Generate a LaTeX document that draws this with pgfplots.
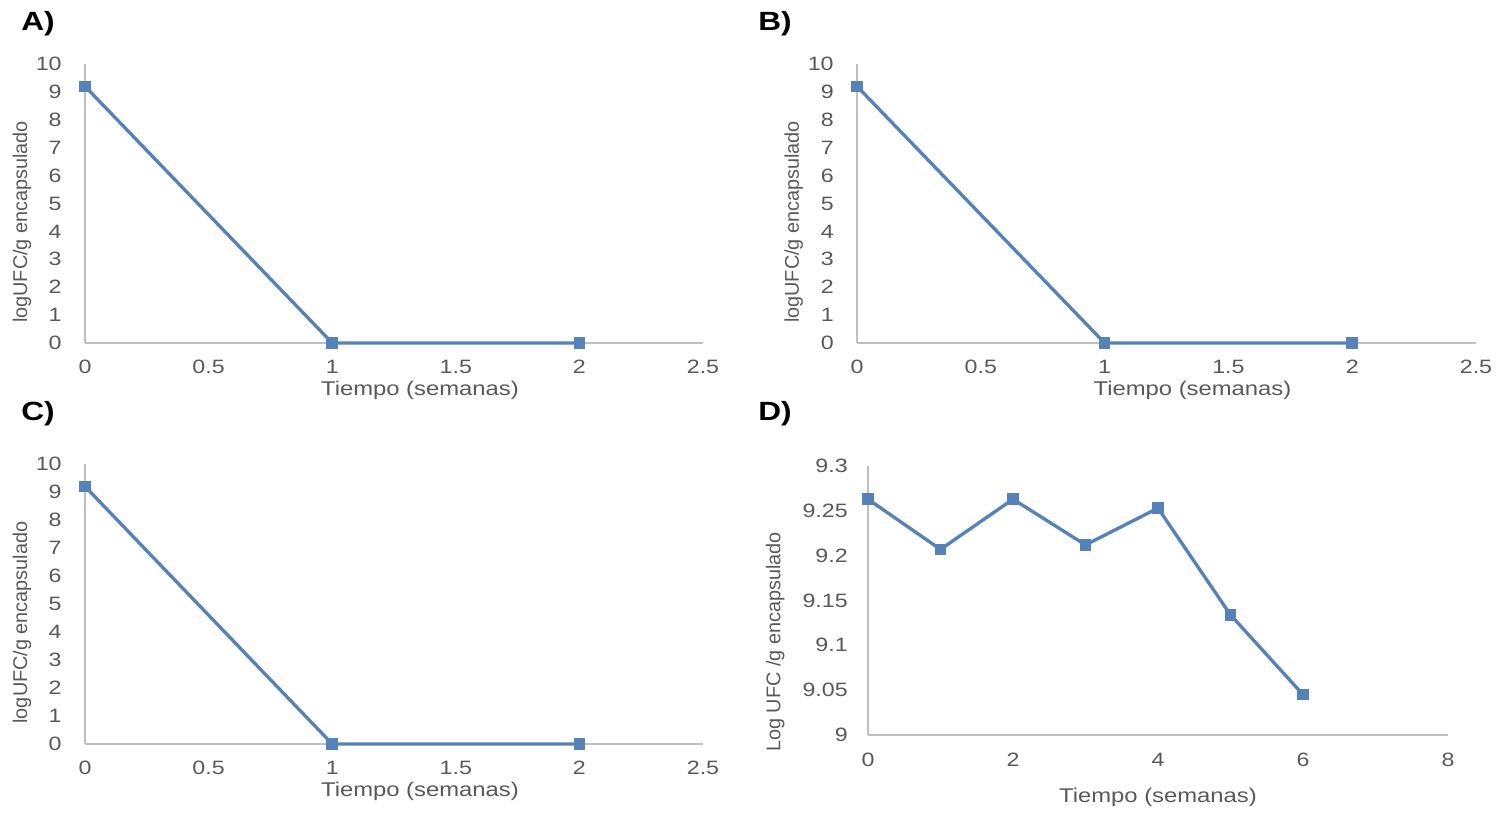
\documentclass[border=0pt]{standalone}
\usepackage{pgfplots}
\pgfplotsset{compat=1.18}
\usepackage{fontspec}
\setmainfont[FakeStretch=1.2]{Liberation Sans}
\newfontfamily\yfont{Liberation Sans}
\definecolor{serie}{RGB}{84,130,185}
\definecolor{ticktxt}{RGB}{89,89,89}
\definecolor{axisgray}{RGB}{191,191,191}
\pgfplotsset{
  panel/.style={
    scale only axis,
    anchor=south west,
    clip=false,
    axis x line=bottom,
    axis y line=left,
    axis line style={draw=axisgray, line width=0.8pt, -},
    major tick length=0pt,
    tick style={draw=none},
    /pgf/number format/assume math mode=true,
    scaled ticks=false,
    tick label style={font=\fontsize{11}{13}\selectfont, text=ticktxt, inner sep=0pt},
    xlabel style={font=\fontsize{11.3}{13}\selectfont, text=ticktxt, anchor=center},
    ylabel style={font=\yfont\fontsize{11.3}{13}\selectfont, text=ticktxt, anchor=center, rotate=0},
  },
  series/.style={color=serie, line width=1.9pt, mark=square*, mark size=2.3pt, mark options={solid, fill=serie, draw=serie}},
  abc/.style={
    panel,
    width=12.36cm, height=5.58cm,
    xmin=0, xmax=2.5, ymin=0, ymax=10,
    xtick={0,0.5,1,1.5,2,2.5},
    xticklabels={0,0.5,1,1.5,2,2.5},
    ytick={0,1,2,3,4,5,6,7,8,9,10},
    yticklabels={0,1,2,3,4,5,6,7,8,9,10},
    yticklabel style={anchor=east, xshift=-0.46cm},
    xticklabel style={anchor=north, yshift=-0.34cm},
    xlabel={Tiempo (semanas)},
    ylabel={logUFC/g encapsulado},
    xlabel style={at={(axis description cs:0.542,-0.168)}},
    ylabel style={at={(axis description cs:-0.102,0.434)}},
  },
}
\begin{document}
\begin{tikzpicture}
\path[use as bounding box] (0,0) rectangle (29.98,-16.26);

% A
\begin{axis}[abc, at={(1.70cm,-6.86cm)}]
\addplot[series] coordinates {(0,9.2) (1,0) (2,0)};
\end{axis}

% B
\begin{axis}[abc, at={(17.14cm,-6.86cm)}, width=12.38cm]
\addplot[series] coordinates {(0,9.2) (1,0) (2,0)};
\end{axis}

% C
\begin{axis}[abc, at={(1.70cm,-14.88cm)}, height=5.60cm]
\addplot[series] coordinates {(0,9.2) (1,0) (2,0)};
\end{axis}

% D
\begin{axis}[panel, at={(17.36cm,-14.70cm)},
  width=11.6cm, height=5.38cm,
  xmin=0, xmax=8, ymin=9, ymax=9.3,
  xtick={0,2,4,6,8}, xticklabels={0,2,4,6,8},
  ytick={9,9.05,9.1,9.15,9.2,9.25,9.3},
  yticklabels={9,9.05,9.1,9.15,9.2,9.25,9.3},
  yticklabel style={anchor=east, xshift=-0.40cm},
  xticklabel style={anchor=north, yshift=-0.36cm},
  xlabel={Tiempo (semanas)},
  ylabel={Log UFC /g encapsulado},
  xlabel style={at={(axis description cs:0.5,-0.230)}},
  ylabel style={at={(axis description cs:-0.160,0.346)}},
]
\addplot[series] coordinates {(0,9.263) (1,9.207) (2,9.263) (3,9.212) (4,9.253) (5,9.134) (6,9.045)};
\end{axis}

\node[font=\fontsize{15}{17}\selectfont\bfseries] at (0.76,-0.48) {A)};
\node[font=\fontsize{15}{17}\selectfont\bfseries] at (15.50,-0.48) {B)};
\node[font=\fontsize{15}{17}\selectfont\bfseries] at (0.76,-8.28) {C)};
\node[font=\fontsize{15}{17}\selectfont\bfseries] at (15.50,-8.28) {D)};
\end{tikzpicture}
\end{document}
